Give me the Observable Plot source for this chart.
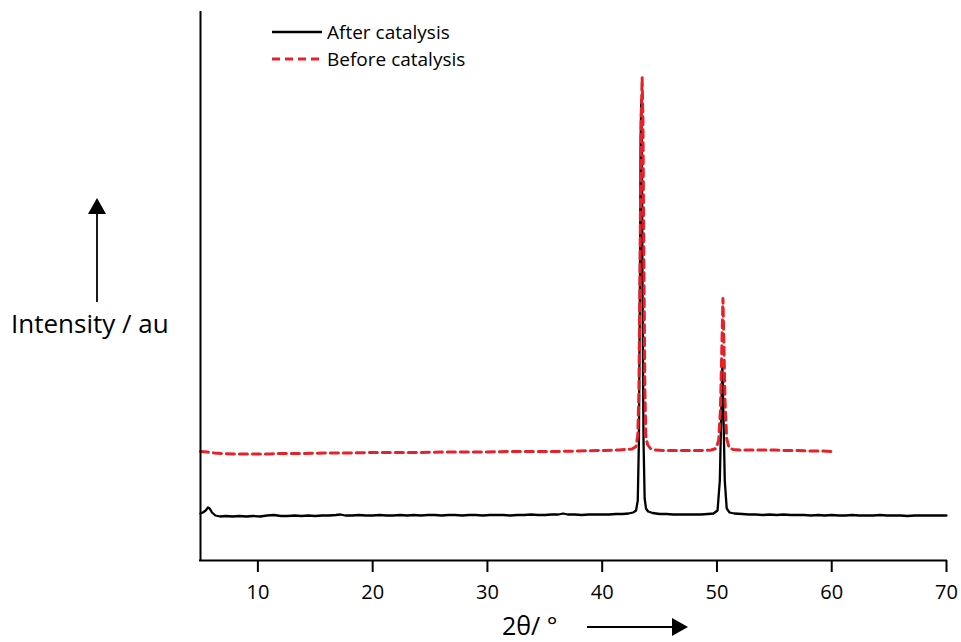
<!DOCTYPE html>
<html>
<head>
<meta charset="utf-8">
<script src="https://cdn.jsdelivr.net/npm/d3@7"></script>
<script src="https://cdn.jsdelivr.net/npm/@observablehq/plot@0.6"></script>
<style>
  html, body { margin: 0; padding: 0; background: #fff; }
  #chart { width: 961px; height: 642px; }
</style>
</head>
<body>
<div id="chart"></div>
<script>
const FONT = '"Open Sans", "Noto Sans", sans-serif';

// Series labels
const seriesNames = ["After catalysis", "Before catalysis"];

// After catalysis (2θ in degrees, intensity in arbitrary units)
const afterX = [5.0,5.2,5.45,5.65,5.8,6.0,6.3,6.7,7.2,7.8,8.4,9.0,9.6,10.2,10.8,11.4,12.0,12.6,13.2,13.8,14.4,15.0,15.6,16.2,16.8,17.2,17.6,18.2,18.8,19.4,20.0,20.6,21.2,21.8,22.4,23.0,23.6,24.2,24.8,25.4,26.0,26.6,27.2,27.8,28.4,29.0,29.6,30.2,30.8,31.4,32.0,32.6,33.2,33.8,34.4,35.0,35.6,36.2,36.6,37.0,37.6,38.2,38.8,39.4,40.0,40.6,41.2,41.8,42.3,42.7,42.95,43.1,43.2,43.28,43.35,43.4,43.45,43.52,43.6,43.7,43.82,44.0,44.4,45.0,45.6,46.2,46.8,47.4,48.0,48.6,49.2,49.7,50.05,50.25,50.38,50.47,50.56,50.68,50.85,51.1,51.5,52.2,52.8,53.4,54.0,54.6,55.2,55.8,56.4,57.0,57.6,58.2,58.8,59.4,60.0,60.6,61.2,61.8,62.4,63.0,63.6,64.2,64.8,65.4,66.0,66.6,67.2,67.8,68.4,69.0,69.6,70.0];
const afterY = [47,48,50,53,52,48,45,44,44.5,44,44.5,44,44.5,44,45,45.5,44.5,44.5,45,44.5,45,44.5,45,45,45.5,46,45,45,45.5,45,45,45.5,45,45,45.5,45,45.5,45,45.5,45.5,45,45.5,45.5,45,45.5,45.5,45,45.5,45.5,45.5,45,45.5,45.5,46,45.5,45.5,46,46,47,46,46,45.5,46,46,46,46,46.5,46.5,47,48,50,60,120,260,420,460,420,260,120,62,52,49,47.5,46.5,46.5,46,46,46,46,46,46.5,47,50,80,150,195,150,80,52,48,47,46.5,46,46,45.5,46,45.5,46,45.5,45.5,45.5,45,45.5,45,45.5,45,45,45.5,45,45,45,45.5,45,45,45,44.5,45,45,45,45,45,45];

// Before catalysis
const beforeX = [5.0,5.6,6.2,7.0,8.0,9.0,10.0,11.0,12.0,14.0,16.0,18.0,20.0,22.0,24.0,26.0,28.0,30.0,32.0,34.0,36.0,38.0,40.0,41.5,42.6,42.95,43.1,43.2,43.3,43.4,43.48,43.55,43.63,43.72,43.8,43.95,44.2,44.6,45.5,46.5,47.5,48.5,49.5,49.9,50.15,50.3,50.42,50.52,50.6,50.7,50.85,51.05,51.4,52.0,53.0,54.0,55.0,56.0,57.0,58.0,59.0,60.0];
const beforeY = [109,108.5,107.5,107,106.5,106.5,106.5,106.5,107,107,107.5,107.5,108,108,108,108.5,108.5,108.5,109,109,109,109.5,110,110.5,111.5,114,125,170,300,440,483,440,300,170,125,116,112,110.5,110,110,110,110,110.5,112,120,150,210,262,220,160,122,113,111,110.5,110.5,110.5,110.5,110,110,109.5,109.5,109];

// Axis ticks
const xTicks = [10, 20, 30, 40, 50, 60, 70];
const xDomain = [5, 70];
const yDomain = [0, 548];

const afterData = afterX.map((x, i) => ({x, y: afterY[i]}));
const beforeData = beforeX.map((x, i) => ({x, y: beforeY[i]}));

const RED = "#e8202a";

const plot = Plot.plot({
  width: 961,
  height: 642,
  marginLeft: 200,
  marginRight: 15,
  marginTop: 12,
  marginBottom: 82,
  style: {fontFamily: FONT, fontSize: "20px", color: "#000", background: "#fff", overflow: "visible"},
  x: {domain: xDomain, axis: null},
  y: {domain: yDomain, axis: null},
  marks: [
    Plot.line(afterData, {x: "x", y: "y", stroke: "#000", strokeWidth: 2.3, curve: "linear"}),
    Plot.line(beforeData, {x: "x", y: "y", stroke: RED, strokeWidth: 3, strokeDasharray: "8,5", curve: "linear"}),
    Plot.ruleY([yDomain[0]], {stroke: "#000", strokeWidth: 2, strokeLinecap: "square"}),
    Plot.ruleX([xDomain[0]], {stroke: "#000", strokeWidth: 2, strokeLinecap: "square"}),
    Plot.axisX({ticks: xTicks, tickSize: 12, tickPadding: 12, strokeWidth: 2, stroke: "#000", fill: "#000", fontSize: 20, tickFormat: d => String(d), label: null})
  ]
});

document.getElementById("chart").appendChild(plot);

const svg = d3.select(plot);
// make sure tick labels use the intended size
svg.selectAll("text").style("font-size", "20px").style("font-family", FONT);

// Annotations: axis titles with arrows, and legend
const ann = svg.append("g").attr("font-family", FONT).attr("fill", "#000").attr("text-anchor", "start");

// Y title + upward arrow
ann.append("text").attr("x", 11).attr("y", 333).attr("font-size", 26).attr("text-anchor", "start").text("Intensity / au");
ann.append("line").attr("x1", 97).attr("y1", 302).attr("x2", 97).attr("y2", 210).attr("stroke", "#000").attr("stroke-width", 1.8);
ann.append("path").attr("d", "M97,198 L88,214 L106,214 Z").attr("fill", "#000");

// X title + rightward arrow
ann.append("text").attr("x", 502).attr("y", 635).attr("font-size", 25).attr("text-anchor", "start").text("2θ/ °");
ann.append("line").attr("x1", 587).attr("y1", 627).attr("x2", 676).attr("y2", 627).attr("stroke", "#000").attr("stroke-width", 1.8);
ann.append("path").attr("d", "M688,627 L672,618 L672,636 Z").attr("fill", "#000");

// Legend
const legend = [
  {name: seriesNames[0], stroke: "#000", dash: null, width: 2.3, y: 32},
  {name: seriesNames[1], stroke: RED, dash: "8,5", width: 3, y: 59}
];
legend.forEach(d => {
  const l = ann.append("line").attr("x1", 272).attr("x2", 322).attr("y1", d.y).attr("y2", d.y)
    .attr("stroke", d.stroke).attr("stroke-width", d.width);
  if (d.dash) l.attr("stroke-dasharray", d.dash);
  ann.append("text").attr("x", 327).attr("y", d.y + 6.5).attr("font-size", 19).attr("text-anchor", "start").text(d.name);
});
</script>
</body>
</html>
